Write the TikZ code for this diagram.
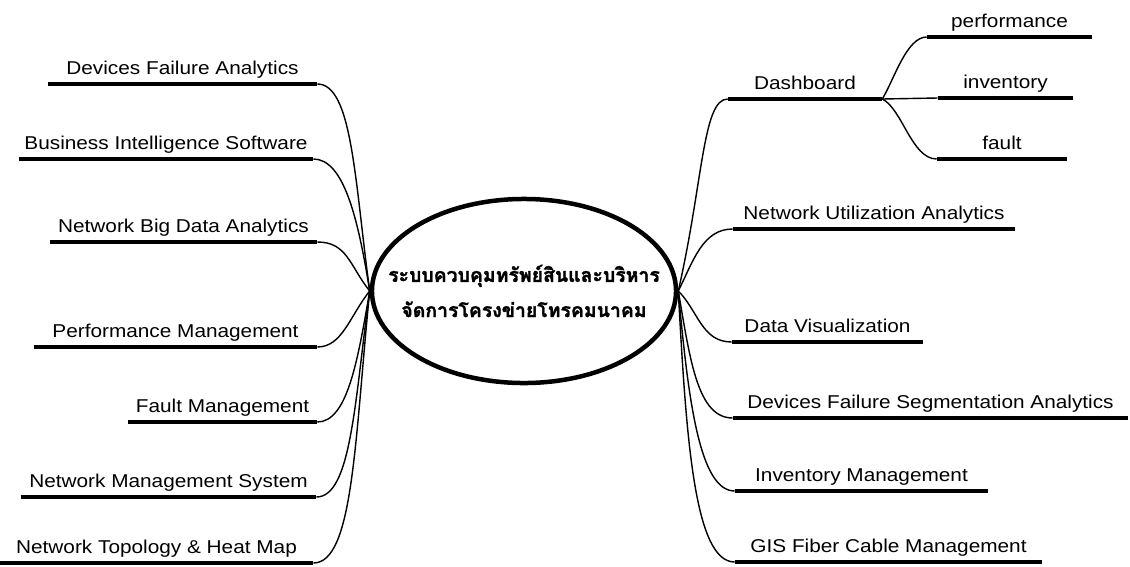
\documentclass[tikz,border=0pt]{standalone}
\usepackage{fontspec}
\setmainfont{Liberation Sans}[FakeStretch=1.12]
\newfontfamily\thaifont[Script=Thai, BoldFeatures={FakeBold=1.6}]{Loma}
\usepackage{tikz}
\usetikzlibrary{shapes.geometric}

\tikzset{
	leaf/.style={anchor=south, inner xsep=0pt, inner ysep=3.7pt, text depth=3pt,
		font=\fontsize{13.2pt}{15pt}\selectfont},
	bar/.style={line width=3.5pt},
	branch/.style={line width=1pt},
	hubtext/.style={align=center, inner sep=0pt, font=\thaifont\bfseries\fontsize{13.8pt}{25pt}\selectfont},
}

\begin{document}
\begin{tikzpicture}[x=0.025cm, y=-0.025cm]
	
	\useasboundingbox (0,0) rectangle (1130,566);
	
	\node[shape=ellipse, draw=black, line width=3.2pt, minimum width=7.6cm, minimum height=4.6cm,
		inner sep=0pt, label={[hubtext]center:{ระบบควบคุมทรัพย์สินและบริหาร\\จัดการโครงข่ายโทรคมนาคม}}]
		(core) at (524, 291) {};
	
	% left side
	\node[leaf, minimum width=6.725cm] (lfa)  at (182.5, 84)  {Devices Failure Analytics};
	\node[leaf, minimum width=7.35cm]  (lbi)  at (166, 159)   {Business Intelligence Software};
	\node[leaf, minimum width=6.675cm] (lbd)  at (183.5, 242) {Network Big Data Analytics};
	\node[leaf, minimum width=7.075cm] (lpm)  at (175.5, 347) {Performance Management};
	\node[leaf, minimum width=4.725cm] (lfm)  at (222.5, 422) {Fault Management};
	\node[leaf, minimum width=7.375cm] (lnms) at (168.5, 497) {Network Management System};
	\node[leaf, minimum width=7.825cm] (lth)  at (156.5, 563) {Network Topology \& Heat Map};
	
	% right side
	\node[leaf, minimum width=3.85cm]  (dash) at (805, 99)    {Dashboard};
	\node[leaf, minimum width=4.125cm] (perf) at (1009.5, 37) {performance};
	\node[leaf, minimum width=3.375cm] (inv)  at (1005.5, 98) {inventory};
	\node[leaf, minimum width=3.25cm]  (flt)  at (1002, 159)  {fault};
	\node[leaf, minimum width=7.05cm]  (rnu)  at (874, 229)   {Network Utilization Analytics};
	\node[leaf, minimum width=4.775cm] (rdv)  at (827.5, 342) {Data Visualization};
	\node[leaf, minimum width=9.875cm] (rdf)  at (930.5, 418) {Devices Failure Segmentation Analytics};
	\node[leaf, minimum width=6.325cm] (rim)  at (861.5, 491) {Inventory Management};
	\node[leaf, minimum width=7.675cm] (rgis) at (888.5, 562) {GIS Fiber Cable Management};
	
	\foreach \n in {lfa,lbi,lbd,lpm,lfm,lnms,lth,dash,perf,inv,flt,rnu,rdv,rdf,rim,rgis}
		\draw[bar] (\n.south west) -- (\n.south east);
	
	\draw[branch] (core.west) .. controls +(-15,-110) and +(35,0) .. (lfa.south east);
	\draw[branch] (core.west) .. controls +(-12,-75) and +(30,0) .. (lbi.south east);
	\draw[branch] (core.west) .. controls +(-20,-25) and +(30,0) .. (lbd.south east);
	\draw[branch] (core.west) .. controls +(-20,25) and +(25,0) .. (lpm.south east);
	\draw[branch] (core.west) .. controls +(-12,70) and +(30,0) .. (lfm.south east);
	\draw[branch] (core.west) .. controls +(-15,110) and +(35,0) .. (lnms.south east);
	\draw[branch] (core.west) .. controls +(-15,150) and +(40,0) .. (lth.south east);
	
	\draw[branch] (core.east) .. controls +(25,-110) and +(-25,0) .. (dash.south west);
	\draw[branch] (core.east) .. controls +(15,-30) and +(-30,0) .. (rnu.south west);
	\draw[branch] (core.east) .. controls +(20,20) and +(-30,0) .. (rdv.south west);
	\draw[branch] (core.east) .. controls +(12,70) and +(-35,0) .. (rdf.south west);
	\draw[branch] (core.east) .. controls +(10,110) and +(-35,0) .. (rim.south west);
	\draw[branch] (core.east) .. controls +(8,150) and +(-40,0) .. (rgis.south west);
	
	\draw[branch] (dash.south east) .. controls +(12,-20) and +(-20,0) .. (perf.south west);
	\draw[branch] (dash.south east) -- (inv.south west);
	\draw[branch] (dash.south east) .. controls +(20,10) and +(-25,0) .. (flt.south west);
	
\end{tikzpicture}
\end{document}
